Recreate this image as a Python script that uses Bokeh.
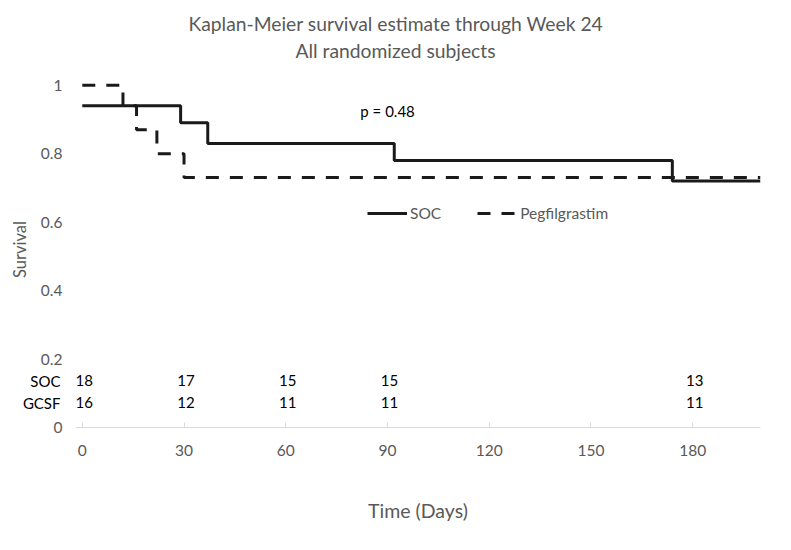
from bokeh.plotting import figure
from bokeh.models import (Title, Label, LabelSet, ColumnDataSource, FixedTicker,
                          Legend, LegendItem, Range1d, LinearAxis)
from bokeh.core.properties import value
from bokeh.embed import file_html
from bokeh.resources import INLINE

# ---- data ----
soc_days = [0, 29, 37, 92, 174, 200]
soc_surv = [0.94, 0.89, 0.83, 0.78, 0.72, 0.72]
peg_days = [0, 12, 16, 22, 30, 200]
peg_surv = [1.0, 0.94, 0.87, 0.80, 0.73, 0.73]

risk_days = [0, 30, 60, 90, 180]
risk_soc = [18, 17, 15, 15, 13]
risk_gcsf = [16, 12, 11, 11, 11]
risk_rows = ["SOC", "GCSF"]
risk_row_y = [0.136, 0.072]

x_ticks = [0, 30, 60, 90, 120, 150, 180]
y_ticks = [0, 0.2, 0.4, 0.6, 0.8, 1.0]
y_tick_labels = ["0", "0.2", "0.4", "0.6", "0.8", "1"]

title_main = "Kaplan-Meier survival estimate through Week 24"
title_sub = "All randomized subjects"
p_value_text = "p = 0.48"

FONT = "Lato"
GREY = "#595959"

p = figure(width=791, height=550, output_backend="svg", toolbar_location=None,
           x_range=Range1d(-2, 200), y_range=Range1d(0, 1.04),
           min_border_left=75, min_border_right=31, min_border_top=71,
           min_border_bottom=123)
p.outline_line_color = None
p.grid.visible = False
p.background_fill_color = "white"
p.border_fill_color = "white"

# titles
t_sub = Title(text=title_sub, align="left", offset=220, text_font=FONT,
              text_font_size="19.3px", text_color=GREY, text_font_style="normal",
              standoff=20)
t_main = Title(text=title_main, align="left", offset=113, text_font=FONT,
               text_font_size="19.3px", text_color=GREY, text_font_style="normal",
               standoff=-17)
p.add_layout(t_sub, "above")
p.add_layout(t_main, "above")

# x axis
xa = p.xaxis[0]
xa.ticker = FixedTicker(ticks=x_ticks)
xa.axis_line_color = "#D9D9D9"
xa.major_tick_line_color = "#D9D9D9"
xa.major_tick_in = 5
xa.major_tick_out = 0
xa.minor_tick_line_color = None
xa.major_label_text_font = FONT
xa.major_label_text_font_size = "15.5px"
xa.major_label_text_color = GREY
xa.major_label_standoff = 17
xa.axis_label = "Time (Days)"
xa.axis_label_text_font = FONT
xa.axis_label_text_font_size = "19.5px"
xa.axis_label_text_font_style = "normal"
xa.axis_label_text_color = GREY
xa.axis_label_standoff = 40

# inner y axis: survival ticks
ya = p.yaxis[0]
ya.ticker = FixedTicker(ticks=y_ticks)
ya.major_label_overrides = {t: s for t, s in zip(y_ticks, y_tick_labels)}
ya.axis_line_color = None
ya.major_tick_line_color = None
ya.minor_tick_line_color = None
ya.major_label_text_font = FONT
ya.major_label_text_font_size = "15.5px"
ya.major_label_text_color = GREY
ya.major_label_standoff = 7

# outer y axis: number-at-risk row names + axis title
ya2 = LinearAxis(ticker=FixedTicker(ticks=risk_row_y),
                 major_label_overrides={t: s for t, s in zip(risk_row_y, risk_rows)},
                 axis_line_color=None, major_tick_line_color=None,
                 minor_tick_line_color=None,
                 major_label_text_font=FONT, major_label_text_font_size="15px",
                 major_label_text_color="black", major_label_standoff=-29,
                 axis_label="Survival", axis_label_text_font=FONT,
                 axis_label_text_font_size="16.5px",
                 axis_label_text_font_style="normal",
                 axis_label_text_color=GREY, axis_label_standoff=-10)
p.add_layout(ya2, "left")

# curves
r_soc = p.step(soc_days, soc_surv, mode="after", line_color="#1a1a1a", line_width=3)
r_peg = p.step(peg_days, peg_surv, mode="after", line_color="#1a1a1a", line_width=3,
               line_dash="13 11")

legend = Legend(items=[LegendItem(label="SOC", renderers=[r_soc]),
                       LegendItem(label="Pegfilgrastim", renderers=[r_peg])],
                orientation="horizontal", location=(292, 205),
                glyph_width=40, glyph_height=16, label_height=16,
                label_standoff=3, spacing=36, padding=0, margin=0,
                border_line_color=None, background_fill_alpha=0,
                label_text_font=FONT, label_text_font_size="15.5px",
                label_text_color=GREY)
p.add_layout(legend)

# p-value
p.add_layout(Label(x=82, y=0.925, text=p_value_text, text_font=FONT,
                   text_font_size="15px", text_color="black",
                   text_align="left", text_baseline="middle"))

# number at risk table
for yv, vals in zip(risk_row_y, [risk_soc, risk_gcsf]):
    src = ColumnDataSource(dict(x=risk_days, y=[yv] * len(risk_days),
                                t=[str(v) for v in vals]))
    p.add_layout(LabelSet(x="x", y="y", text="t", source=src, x_offset=2,
                          text_font=value(FONT), text_font_size=value("15px"),
                          text_color="black", text_align="center",
                          text_baseline="middle"))

open("out.html", "w").write(file_html(p, INLINE))
